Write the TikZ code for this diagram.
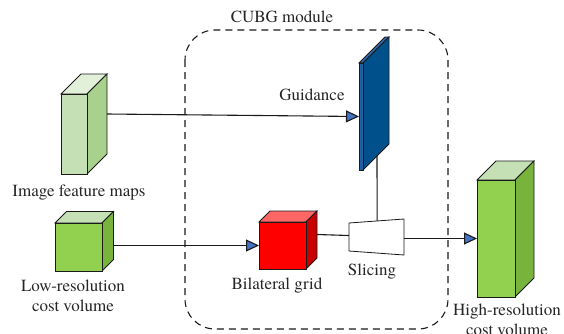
\documentclass[tikz,border=0pt]{standalone}
\usepackage{fontspec}
\setmainfont{texgyretermes}[Extension=.otf, UprightFont=*-regular, BoldFont=*-bold, ItalicFont=*-italic, BoldItalicFont=*-bolditalic]
\usepackage{tikz}
\usetikzlibrary{arrows.meta,positioning}

\definecolor{edge}{HTML}{1A1A1A}
\definecolor{arrblue}{HTML}{4472C4}
\definecolor{palegreen}{HTML}{C5E0B4}
\definecolor{palegreentop}{HTML}{E2F0D9}
\definecolor{palegreenside}{HTML}{A9D18E}
\definecolor{lime}{HTML}{92D050}
\definecolor{limeside}{HTML}{78B43C}
\definecolor{guidfront}{HTML}{1F5FA0}
\definecolor{guidtop}{HTML}{2E6DB0}
\definecolor{guidside}{HTML}{00508C}
\definecolor{redtop}{HTML}{FF6666}
\definecolor{redside}{HTML}{C80000}

% #1 name, #2 left, #3 top, #4 width, #5 height, #6 depth, #7 front, #8 top, #9 side
\newcommand{\cuboid}[9]{%
	\draw [face, fill=#8] (#2, #3) -- ++(#6, -#6) -- ++(#4, 0) -- ++(-#6, #6) -- cycle;
	\draw [face, fill=#9] (#2+#4, #3) -- ++(#6, -#6) -- ++(0, #5) -- ++(-#6, #6) -- cycle;
	\node [face, fill=#7, minimum width=#4pt, minimum height=#5pt, anchor=north west] (#1) at (#2, #3) {};
	\coordinate (#1-s) at (#2+#4+#6, #3+#5/2-#6);
}

\begin{document}
\begin{tikzpicture}[x=1pt, y=-1pt,
	face/.style={draw=edge, line width=0.8pt, inner sep=0pt, outer sep=0pt},
	link/.style={draw=edge, line width=1.1pt},
	tip/.style={-{Triangle[length=13pt, width=12pt, fill=arrblue]}},
	lbl/.style={text=black!85, font=\fontsize{17}{20}\selectfont, align=center, inner sep=0pt}]
	\useasboundingbox (0, 0) rectangle (564, 333);

	% module frame
	\draw [draw=edge, line width=1.1pt, dash pattern=on 7pt off 5pt, rounded corners=30pt] (185, 30) rectangle (448, 329);
	\node [lbl] (cubg) at (282, 17) {CUBG module};

	% blocks
	\cuboid{ifm}{61}{94}{26}{80}{20}{palegreen}{palegreentop}{palegreenside}
	\cuboid{lr}{55}{223}{47}{48}{11.5}{lime}{palegreen}{limeside}
	\cuboid{bg}{259}{222}{47}{47}{11}{red}{redtop}{redside}
	\cuboid{gd}{359}{63}{4}{107}{26}{guidfront}{guidtop}{guidside}
	\cuboid{hr}{477}{180}{38}{117}{19}{lime}{palegreen}{limeside}

	\draw [face, fill=white] (349, 223) coordinate (sl-tl) -- (404, 219) coordinate (sl-tr)
		-- (404, 255) -- (349, 251) -- cycle;
	\coordinate (sl-l) at (349, 235.5);
	\coordinate (sl-r) at (404, 238.5);
	\path (sl-tl) -- (sl-tr) coordinate [pos=0.51] (sl-t);
	\path (gd.south east) -- ++(26, -26) coordinate [pos=0.54] (gd-b);

	% links
	\draw [link, tip] (ifm-s) -- (gd.west);
	\draw [link, tip] (lr-s |- bg.west) -- (bg.west);
	\draw [link] (bg-s) -- (sl-l);
	\draw [link] (gd-b) -- (sl-t);
	\draw [link, tip] (sl-r) -- (hr.west);

	% labels
	\node [lbl] (guidlbl) at (312, 95) {Guidance};
	\node [lbl] (ifmlbl) at (79, 193) {Image feature maps};
	\node [lbl] (lrlbl) at (73, 296) {Low-resolution\\cost volume};
	\node [lbl] (bglbl) at (277, 286) {Bilateral grid};
	\node [lbl] (sllbl) at (372, 272) {Slicing};
	\node [lbl] (hrlbl) at (507, 320) {High-resolution\\cost volume};

\end{tikzpicture}
\end{document}
